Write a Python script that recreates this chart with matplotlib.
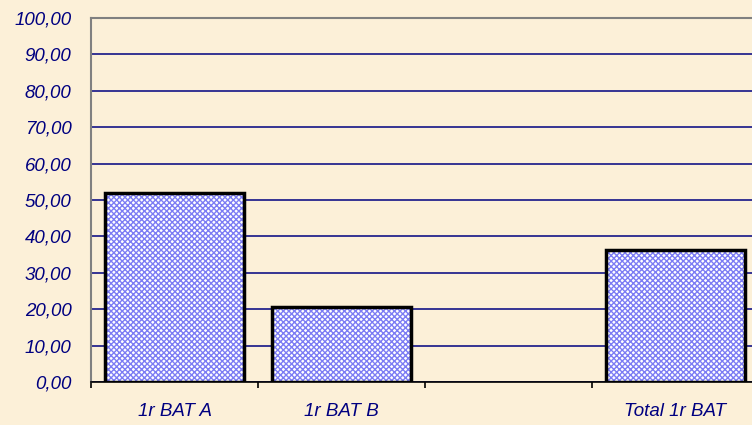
import numpy as np
import matplotlib
matplotlib.use("Agg")
import matplotlib.pyplot as plt

categories = ["1r BAT A", "1r BAT B", "", "Total 1r BAT"]
values = [52.0, 20.5, np.nan, 36.3]
y_ticks = [0, 10, 20, 30, 40, 50, 60, 70, 80, 90, 100]
y_labels = ["0,00", "10,00", "20,00", "30,00", "40,00", "50,00",
            "60,00", "70,00", "80,00", "90,00", "100,00"]

bg = "#fcf0d8"
navy = "#000080"

fig = plt.figure(figsize=(7.52, 4.25), dpi=100, facecolor=bg)
ax = fig.add_axes([91 / 752, 43 / 425, 668 / 752, 364 / 425])
ax.set_facecolor(bg)

x = np.arange(len(categories)) + 0.5
# fill pattern, then the black outline on top
ax.bar(x, values, width=0.83, color="white", edgecolor="#7c7cf4",
       hatch="xxxxxx", linewidth=0, zorder=2)
ax.bar(x, values, width=0.83, fill=False, edgecolor="black",
       linewidth=2.5, zorder=3)

ax.set_xlim(0, len(categories))
ax.set_ylim(0, 100)

ax.set_yticks(y_ticks)
ax.set_yticklabels(y_labels, fontstyle="italic", color=navy,
                   fontsize=13.5, family="Liberation Sans")
ax.tick_params(axis="y", length=0, pad=14)
ax.yaxis.grid(True, color=navy, linewidth=1.1)
ax.set_axisbelow(True)

ax.set_xticks(np.arange(len(categories) + 1))
ax.set_xticklabels([])
ax.set_xticks(x, minor=True)
ax.set_xticklabels(categories, minor=True, fontstyle="italic", color=navy,
                   fontsize=13.5, family="Liberation Sans")
ax.tick_params(axis="x", which="major", length=4, width=1.2, color="black",
               direction="out")
ax.tick_params(axis="x", which="minor", length=0, pad=15)

ax.spines["left"].set_color("#808080")
ax.spines["left"].set_linewidth(1.5)
ax.spines["top"].set_color("#808080")
ax.spines["top"].set_linewidth(1.5)
ax.spines["right"].set_visible(False)
ax.spines["bottom"].set_color("black")
ax.spines["bottom"].set_linewidth(1.2)

fig.savefig("out.png", dpi=100, facecolor=bg)
